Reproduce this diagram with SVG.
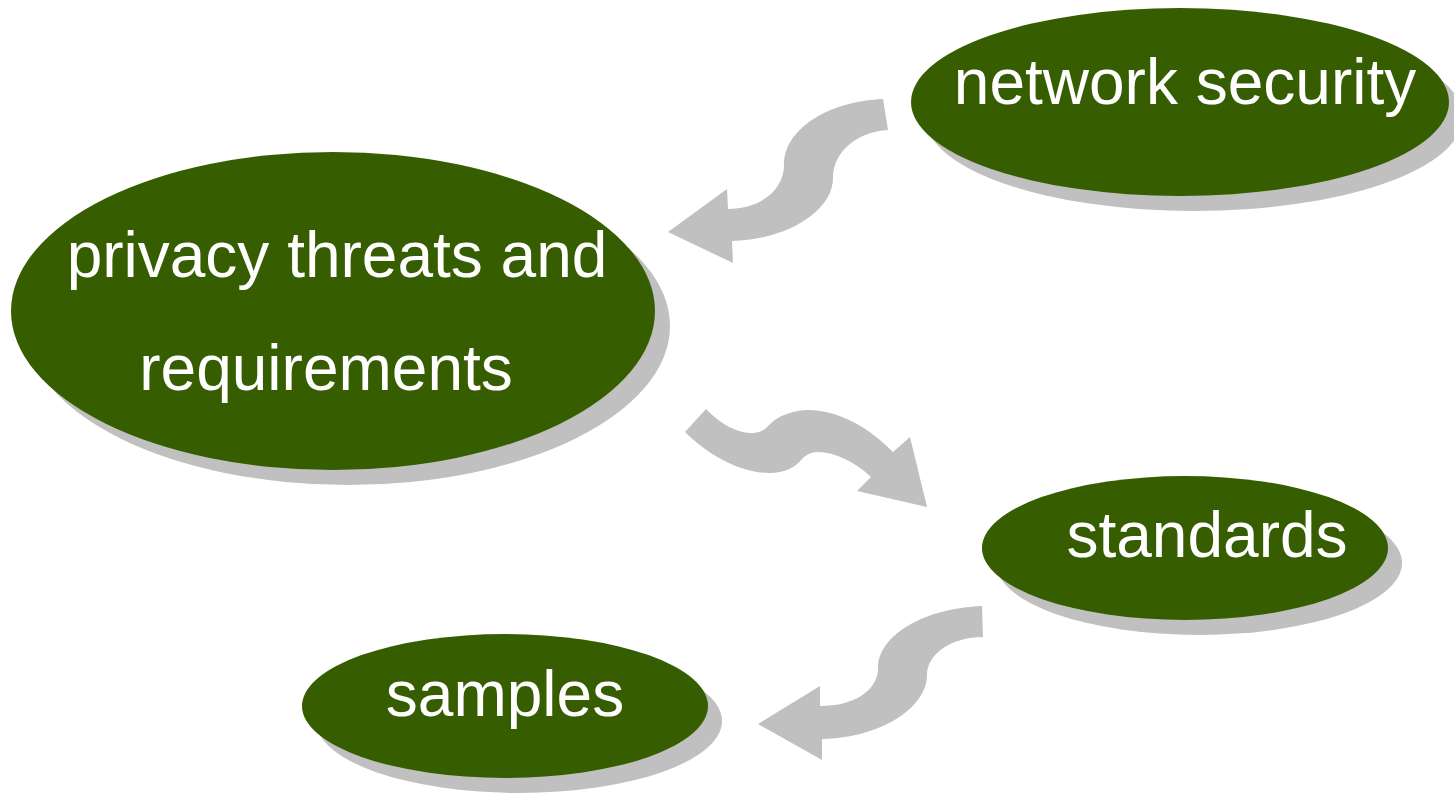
<svg xmlns="http://www.w3.org/2000/svg" width="1454" height="794" viewBox="0 0 1454 794">
<style>
.sh{fill:#c0c0c0}
.el{fill:#365e00}
.t{font-family:"Liberation Sans",Arial,sans-serif;font-size:64px;fill:#ffffff;text-anchor:middle}
.ar{fill:#c0c0c0}
</style>
<rect width="1454" height="794" fill="#ffffff"/>
<g id="connectors">
<path class="ar" d="M 883 99 C 830 101, 784 128, 784 165 C 784 190, 760 209, 728 209 L 727 189 L 668 232 L 733 263 L 732 241 C 785 240, 833 212, 833 178 C 833 150, 860 131, 888 130 Z"/>
<path class="ar" d="M 706 409 C 720 424, 738 433, 750 433 C 758 433, 764 431, 768 426 C 778 415, 795 410, 808 410 C 840 410, 872 430, 893 452 L 910 437 L 927 507 L 857 491 L 871 477 C 855 462, 835 452, 818 452 C 811 452, 806 455, 802 459 C 795 468, 783 473, 770 473 C 740 473, 708 455, 685 432 Z"/>
<path class="ar" d="M 982 606 C 925 608, 878 635, 878 668 C 878 690, 855 706, 820 706 L 820 686 L 758 724 L 822 760 L 822 739 C 880 738, 927 708, 927 675 C 927 655, 950 637, 983 637 Z"/>
</g>
<g id="node-network-security">
<ellipse class="sh" cx="1194" cy="117" rx="269" ry="94"/>
<ellipse class="el" cx="1180" cy="102" rx="269" ry="94"/>
<text class="t" x="1185" y="104">network security</text>
</g>
<g id="node-privacy">
<ellipse class="sh" cx="348" cy="326" rx="322" ry="159"/>
<ellipse class="el" cx="333" cy="311" rx="322" ry="159"/>
<text class="t" x="337" y="277">privacy threats and</text>
<text class="t" x="326" y="390">requirements</text>
</g>
<g id="node-standards">
<ellipse class="sh" cx="1199" cy="563" rx="203" ry="72"/>
<ellipse class="el" cx="1185" cy="548" rx="203" ry="72"/>
<text class="t" x="1207" y="557">standards</text>
</g>
<g id="node-samples">
<ellipse class="sh" cx="519" cy="721" rx="203" ry="72"/>
<ellipse class="el" cx="505" cy="706" rx="203" ry="72"/>
<text class="t" x="505" y="716">samples</text>
</g>
</svg>
